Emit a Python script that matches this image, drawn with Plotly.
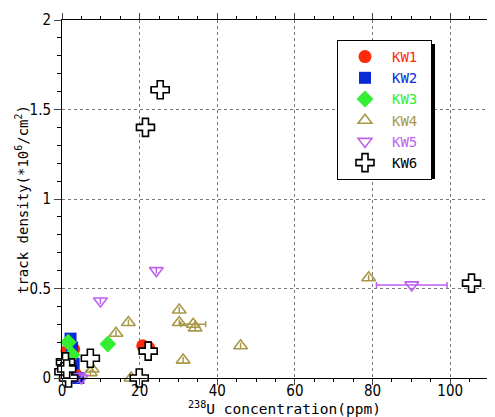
import plotly.graph_objects as go

# ---- data ----
kw1_x = [20.8, 22.3, 1.3, 3.0, 2.5, 3.5]
kw1_y = [0.18, 0.17, 0.15, 0.16, 0.10, 0.02]

kw2_x = [2.2, 2.6, 4.2, 3.0]
kw2_y = [0.22, 0.17, 0.00, 0.08]

kw3_x = [11.8, 1.6, 2.6, 1.5]
kw3_y = [0.19, 0.20, 0.13, 0.02]

kw4_x = [79.0, 46.0, 31.2, 30.2, 30.2, 33.8, 34.3, 17.1, 13.9, 7.8, 7.3, 17.8]
kw4_y = [0.56, 0.18, 0.10, 0.38, 0.31, 0.30, 0.28, 0.31, 0.25, 0.05, 0.03, 0.00]
kw4_xerr = [0, 0, 0, 0, 0, 3.2, 0, 0, 0, 0, 0, 0]

kw5_x = [24.3, 9.9, 90.1, 4.0, 5.0]
kw5_y = [0.60, 0.43, 0.52, 0.01, 0.00]
kw5_xerr = [0, 0, 9.1, 0, 0]

kw6_x = [25.3, 21.5, 22.2, 19.9, 105.5, 7.3, 0.9, 0.5, 1.7, 1.2]
kw6_y = [1.61, 1.40, 0.15, 0.00, 0.53, 0.11, 0.09, 0.035, 0.00, 0.05]
kw6_xerr = [2.3, 0, 0, 0, 0, 0, 0, 0, 0, 0]

x_ticks = [0, 20, 40, 60, 80, 100]
y_ticks = [0, 0.5, 1, 1.5, 2]
y_tick_labels = ["0", "0.5", "1", "1.5", "2"]

C1, C2, C3, C4, C5, C6 = "#ff2a0a", "#0a2ad6", "#33ee33", "#a89848", "#c060f0", "#000000"

fig = go.Figure()

def name(t, c):
    return f"<span style='color:{c}'>{t}</span>&nbsp;"

fig.add_trace(go.Scatter(x=kw1_x, y=kw1_y, mode="markers", name=name("KW1", C1),
                         marker=dict(symbol="circle", size=13, color=C1), cliponaxis=False))
fig.add_trace(go.Scatter(x=kw2_x, y=kw2_y, mode="markers", name=name("KW2", C2),
                         marker=dict(symbol="square", size=12, color=C2), cliponaxis=False))
fig.add_trace(go.Scatter(x=kw3_x, y=kw3_y, mode="markers", name=name("KW3", C3),
                         marker=dict(symbol="diamond", size=13, color=C3), cliponaxis=False))
fig.add_trace(go.Scatter(x=kw4_x, y=kw4_y, mode="markers", name=name("KW4", C4),
                         error_x=dict(type="data", array=kw4_xerr, color=C4, thickness=1.5, width=3),
                         marker=dict(symbol="triangle-up-open", size=12, color=C4, line=dict(width=1.6)),
                         cliponaxis=False))
fig.add_trace(go.Scatter(x=kw5_x, y=kw5_y, mode="markers", name=name("KW5", C5),
                         error_x=dict(type="data", array=kw5_xerr, color=C5, thickness=1.5, width=3),
                         marker=dict(symbol="triangle-down-open", size=12, color=C5, line=dict(width=1.6)),
                         cliponaxis=False))
fig.add_trace(go.Scatter(x=kw6_x, y=kw6_y, mode="markers", name=name("KW6", "#000000"),
                         error_x=dict(type="data", array=kw6_xerr, color=C6, thickness=1.5, width=3),
                         marker=dict(symbol="cross", size=15, color="white", line=dict(color=C6, width=1.6)),
                         cliponaxis=False))

TICKFONT = dict(family="Liberation Sans Narrow, DejaVu Sans Condensed, sans-serif", size=15, color="black")
TITLEFONT = dict(family="DejaVu Sans Mono, monospace", size=14, color="black")

fig.update_xaxes(range=[0, 110], tickvals=x_ticks, ticks="outside", ticklen=6, tickwidth=1,
                 showline=True, linecolor="black", linewidth=1, mirror="allticks", automargin=False,
                 showgrid=True, gridcolor="#777777", griddash="dot", gridwidth=1, zeroline=False,
                 minor=dict(dtick=5, ticks="outside", ticklen=3, tickcolor="black", showgrid=False),
                 tickfont=TICKFONT, ticklabelstandoff=-7)
fig.update_yaxes(range=[0, 2], tickvals=y_ticks, ticktext=y_tick_labels, ticks="outside", ticklen=7, tickwidth=1,
                 showline=True, linecolor="black", linewidth=1, mirror="allticks", automargin=False,
                 showgrid=True, gridcolor="#777777", griddash="dot", gridwidth=1, zeroline=False,
                 minor=dict(dtick=0.1, ticks="outside", ticklen=4, tickcolor="black", showgrid=False),
                 tickfont=TICKFONT)

# axis titles as annotations (window px -> paper fractions; plot area spans x 62..489, y 20..378)
fig.add_annotation(text="track density(*10<sup>6</sup>/cm<sup>2</sup>)", textangle=-90,
                   xref="paper", yref="paper", x=(22 - 62) / 427, y=(378 - 200) / 358,
                   xanchor="center", yanchor="middle", showarrow=False, font=TITLEFONT)
fig.add_annotation(text="<sup>238</sup>U concentration(ppm)",
                   xref="paper", yref="paper", x=(284 - 62) / 427, y=(378 - 408) / 358,
                   xanchor="center", yanchor="middle", showarrow=False,
                   font=dict(family="DejaVu Sans Mono, monospace", size=14.5, color="black"))

# legend drop shadow
fig.add_shape(type="rect", xref="paper", yref="paper",
              x0=(341 - 62) / 427, x1=(435 - 62) / 427, y0=(378 - 179) / 358, y1=(378 - 44) / 358,
              fillcolor="black", line=dict(width=0), layer="above")

# page body adds an 8 px offset; figure is sized so the plot area lands where the reference has it
fig.update_layout(
    width=487, height=409,
    margin=dict(l=54, r=6, t=12, b=39),
    paper_bgcolor="white", plot_bgcolor="white",
    showlegend=True,
    legend=dict(x=(337 - 62) / 427, y=(378 - 40) / 358, xanchor="left", yanchor="top",
                bgcolor="white", bordercolor="black", borderwidth=1,
                font=dict(family="DejaVu Sans Mono, monospace", size=14),
                itemwidth=44, itemsizing="trace"),
)

fig.write_html("out.html")
